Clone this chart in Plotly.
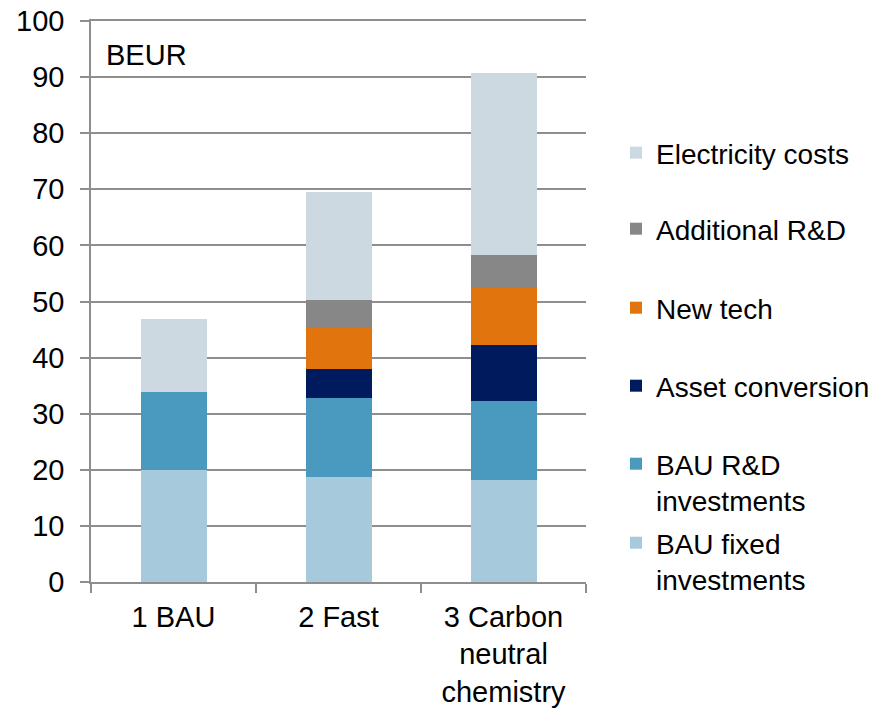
import plotly.graph_objects as go

categories = ["1 BAU", "2 Fast", "3 Carbon<br>neutral<br>chemistry"]
bau_fixed = [20.0, 18.8, 18.2]
bau_rd = [13.9, 14.0, 14.0]
asset_conv = [0.0, 5.2, 10.0]
new_tech = [0.0, 7.3, 10.4]
add_rd = [0.0, 5.0, 5.7]
electricity = [12.9, 19.3, 32.4]
y_ticks = [0, 10, 20, 30, 40, 50, 60, 70, 80, 90, 100]

series = [
    ("BAU fixed<br>investments", bau_fixed, "#A7C9DC"),
    ("BAU R&D<br>investments", bau_rd, "#4A99BE"),
    ("Asset conversion", asset_conv, "#001A5E"),
    ("New tech", new_tech, "#E1740C"),
    ("Additional R&D", add_rd, "#878787"),
    ("Electricity costs", electricity, "#CDD9E1"),
]
legend_centers_px = [542, 463, 385, 307, 228, 152]

FONT = "Liberation Sans, Arial, sans-serif"
GRID = "#8E8E8E"
OFF = 8  # page body margin
W, H = 881 - OFF, 710 - OFF
YMAX = 100
PW, PH = 495, 561
ML, MT = 91 - OFF, 582 - PH - OFF
MR = W - ML - PW
MB = H - MT - PH


def px_x(px):
    return (px - OFF - ML) / PW


def px_y(py):
    return (MT + PH - (py - OFF)) / PH


fig = go.Figure()
layout_legends = {}
for i, (name, vals, color) in enumerate(series):
    lname = "legend" if i == 0 else f"legend{i+1}"
    fig.add_trace(go.Bar(
        x=categories, y=vals, name=name, marker_color=color,
        marker_line_width=0, width=0.4, legend=lname,
    ))
    cy = legend_centers_px[i]
    layout_legends[lname] = dict(
        x=px_x(616), xanchor="left",
        y=px_y(cy - 24), yanchor="top",
        font=dict(family=FONT, size=28, color="#000000"),
        bgcolor="rgba(0,0,0,0)", valign="top",
        itemclick=False, itemdoubleclick=False,
    )

fig.update_layout(
    barmode="stack",
    width=W, height=H,
    margin=dict(l=ML, r=MR, t=MT, b=MB, autoexpand=False),
    plot_bgcolor="white", paper_bgcolor="white",
    font=dict(family=FONT, size=29, color="#000000"),
    showlegend=True,
    **layout_legends,
)
fig.update_yaxes(
    range=[0, YMAX], tickmode="array", tickvals=y_ticks,
    showgrid=True, gridcolor=GRID, gridwidth=1.5,
    showline=True, linecolor=GRID, linewidth=1.5,
    ticks="outside", ticklen=9, tickcolor=GRID, tickwidth=1.5,
    ticklabeloverflow="allow", ticklabelstandoff=10,
    tickfont=dict(family=FONT, size=29, color="#000000"), zeroline=False,
    automargin=False,
)
fig.update_xaxes(
    showline=True, linecolor=GRID, linewidth=1.5, mirror=True,
    ticks="outside", ticklen=9, tickcolor=GRID, tickwidth=1.5,
    tickson="boundaries", automargin=False, ticklabeloverflow="allow",
    ticklabelstandoff=8,
    tickfont=dict(family=FONT, size=29, color="#000000"),
)
fig.add_annotation(
    text="BEUR", xref="paper", yref="paper", x=px_x(104), y=px_y(55),
    xanchor="left", yanchor="middle", showarrow=False,
    font=dict(family=FONT, size=29, color="#000000"),
)

fig.write_html("out.html")
